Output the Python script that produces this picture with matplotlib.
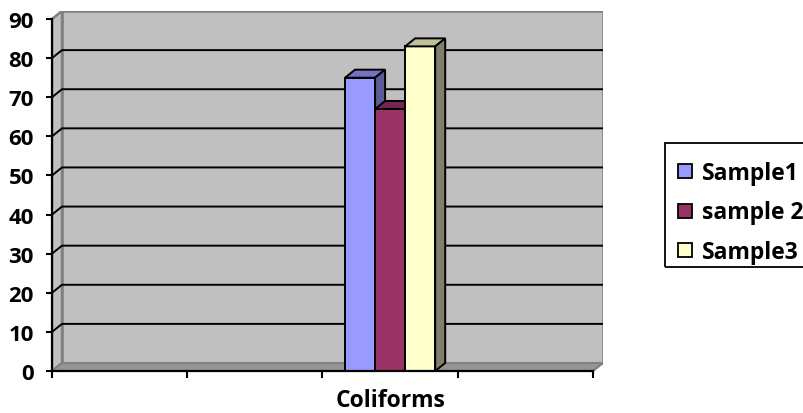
import matplotlib.pyplot as plt
from matplotlib.patches import Polygon, Rectangle

# chart data
categories = ["", "", "Coliforms", ""]
series_names = ["Sample1", "sample 2", "Sample3"]
sample1 = [None, None, 75, None]
sample2 = [None, None, 67, None]
sample3 = [None, None, 83, None]
y_ticks = list(range(0, 100, 10))

front_colors = ["#9999FF", "#993366", "#FFFFCC"]
top_colors = ["#7373C0", "#732650", "#C0C099"]
side_colors = ["#5C5C99", "#5C1F3D", "#80806A"]

plt.rcParams["font.family"] = ["Open Sans", "DejaVu Sans"]
plt.rcParams["font.weight"] = "bold"

W, H = 804, 414
fig = plt.figure(figsize=(W / 100, H / 100), dpi=100)


def fig_px(x, y):
    return x / W, 1 - y / H


# axes box in pixels (front plane + depth of the back wall)
ax_left, ax_right, ax_top, ax_bottom = 52, 603, 12, 372
ax = fig.add_axes([ax_left / W, 1 - ax_bottom / H,
                   (ax_right - ax_left) / W, (ax_bottom - ax_top) / H])
ax.patch.set_visible(False)

n_cat = len(categories)
y_max = 90
px_per_cat = 135.25
px_per_unit = 3.911
DX = 10 / px_per_cat
DY = 8 / px_per_unit
ax.set_xlim(0, n_cat + DX)
ax.set_ylim(0, y_max + DY)

wall_c = "#C0C0C0"
edge_c = "#808080"

# back wall, side wall, floor
ax.add_patch(Rectangle((DX, DY), n_cat, y_max, fc=wall_c, ec=edge_c, lw=1.8, zorder=0))
ax.add_patch(Polygon([(0, 0), (DX, DY), (DX, y_max + DY), (0, y_max)],
                     closed=True, fc=wall_c, ec=edge_c, lw=1.8, zorder=0))
ax.add_patch(Polygon([(0, 0), (n_cat, 0), (n_cat + DX, DY), (DX, DY)],
                     closed=True, fc="#959595", ec=edge_c, lw=1.5, zorder=0.5))

# gridlines wrap round the side wall onto the back wall
for v in y_ticks[1:-1]:
    ax.plot([0, DX, n_cat + DX], [v, v + DY, v + DY], color="black", lw=1.4, zorder=1)

# 3D columns: front face from ax.bar, top and side as polygons
series = [sample1, sample2, sample3]
bar_w = 1 / (len(series) + 1.5)
for j, vals in enumerate(series):
    for i, v in enumerate(vals):
        if v is None:
            continue
        x0 = i + 0.75 * bar_w + j * bar_w
        x1 = x0 + bar_w
        z = 3 + j
        ax.bar(x0, v, width=bar_w, align="edge", color=front_colors[j],
               edgecolor="black", lw=1.4, zorder=z)
        ax.add_patch(Polygon([(x0, v), (x0 + DX, v + DY), (x1 + DX, v + DY), (x1, v)],
                             closed=True, fc=top_colors[j], ec="black", lw=1.4, zorder=z))
        ax.add_patch(Polygon([(x1, 0), (x1 + DX, DY), (x1 + DX, v + DY), (x1, v)],
                             closed=True, fc=side_colors[j], ec="black", lw=1.4, zorder=z))

# axes lines and ticks
for s in ["top", "right"]:
    ax.spines[s].set_visible(False)
ax.spines["left"].set_bounds(0, y_max)
ax.spines["bottom"].set_bounds(0, n_cat)
for s in ["left", "bottom"]:
    ax.spines[s].set_linewidth(1.6)
    ax.spines[s].set_zorder(6)

ax.set_yticks(y_ticks)
ax.set_yticklabels([str(t) for t in y_ticks])
ax.tick_params(axis="y", direction="out", length=4, width=1.5, pad=9, labelsize=16)

ax.set_xticks(range(n_cat + 1))
ax.set_xticklabels([])
ax.set_xticks([i + 0.5 for i in range(n_cat)], minor=True)
ax.set_xticklabels(categories, minor=True)
ax.tick_params(axis="x", which="major", direction="out", length=5, width=1.5)
ax.tick_params(axis="x", which="minor", length=0, pad=12, labelsize=16.5)

# legend box running off the right edge
fig.patches.append(Rectangle(fig_px(665, 268), 200 / W, (268 - 144) / H,
                             transform=fig.transFigure, fill=False, ec="black", lw=1.3))
for k, name in enumerate(series_names):
    cy = 172 + k * 39.5
    fig.patches.append(Rectangle(fig_px(678, cy + 7), 14 / W, 14 / H,
                                 transform=fig.transFigure, fc=front_colors[k],
                                 ec="black", lw=1.3))
    fig.text(*fig_px(702, cy + 8), name, ha="left", va="baseline", fontsize=16.5)

fig.savefig("out.png", dpi=100)
